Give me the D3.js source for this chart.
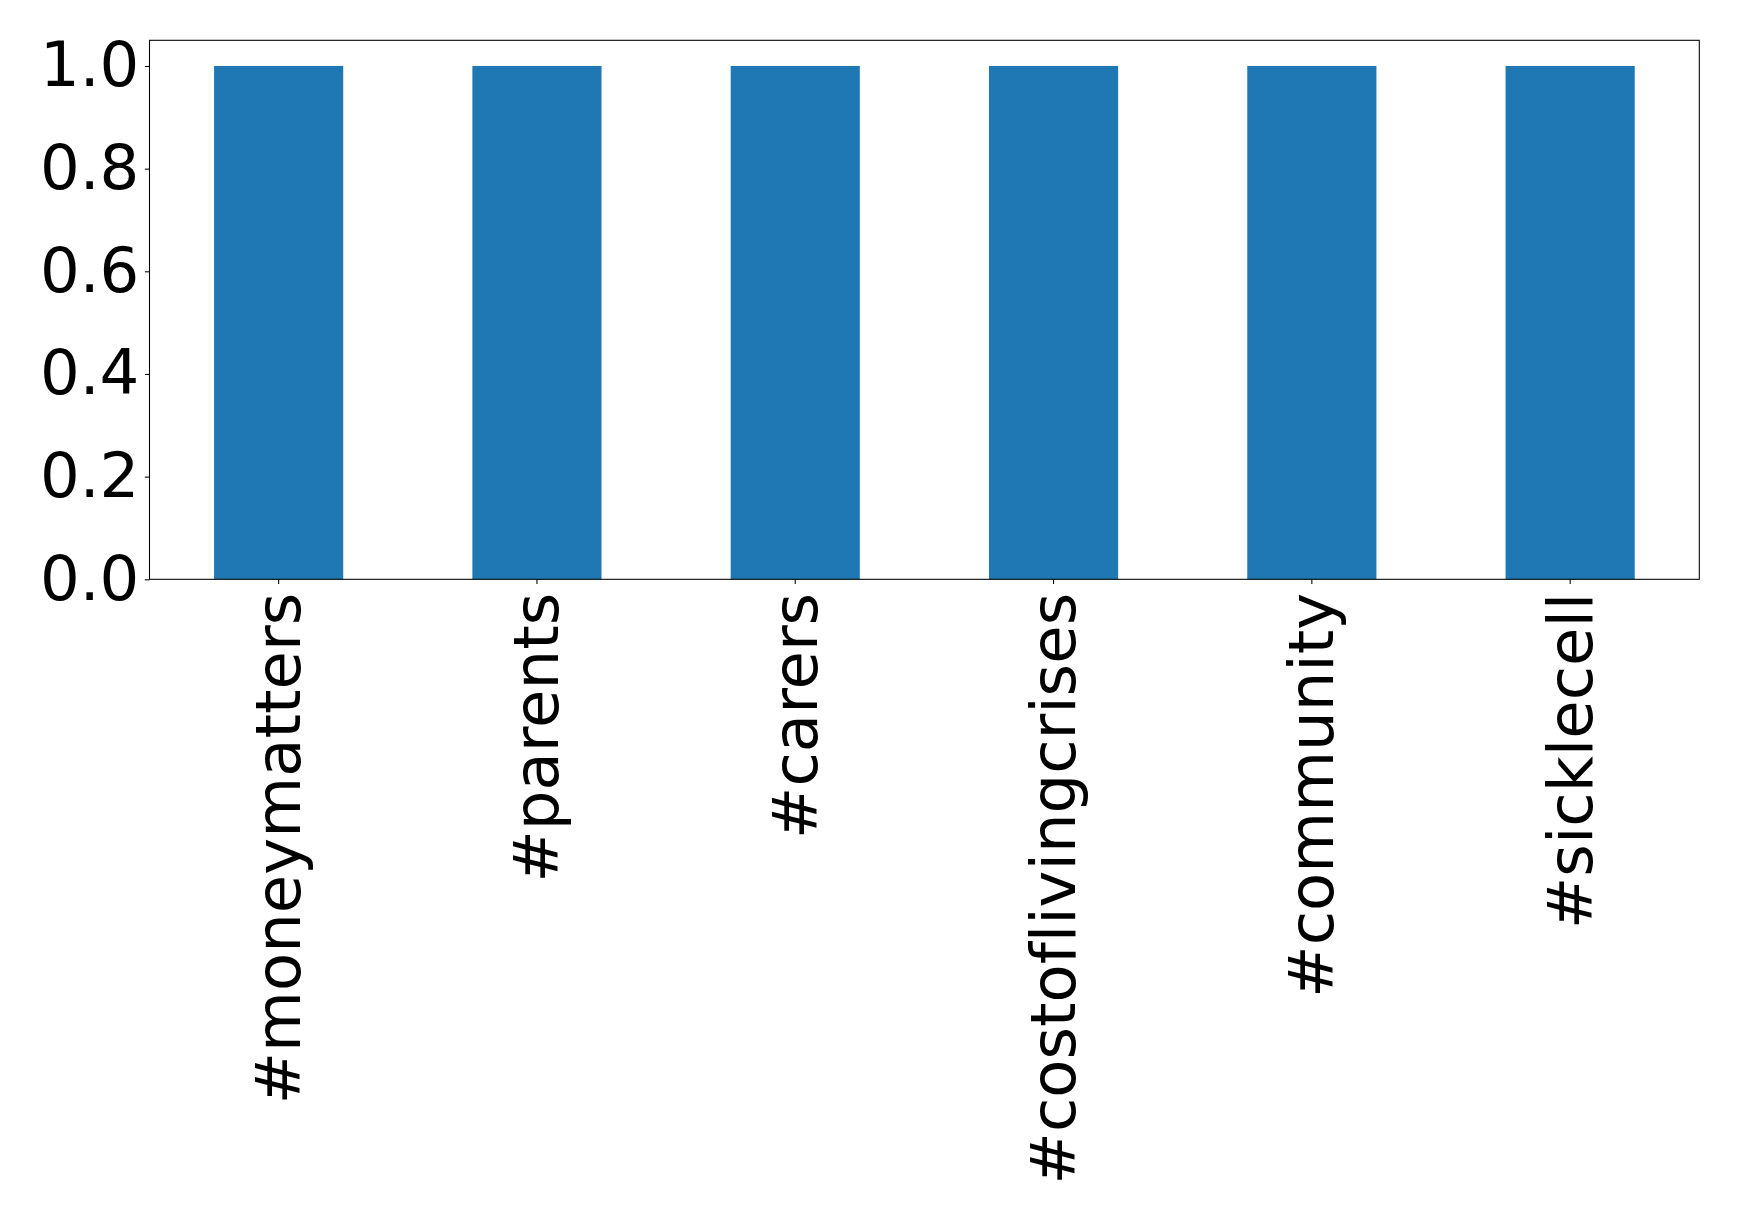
<!DOCTYPE html>
<html>
<head>
<meta charset="utf-8">
<script src="https://cdn.jsdelivr.net/npm/d3@7"></script>
<style>
  html, body { margin: 0; padding: 0; background: #fff; }
  svg { display: block; }
  text { font-variant-ligatures: none; font-feature-settings: "liga" 0, "clig" 0; }
</style>
</head>
<body>
<svg id="chart" width="1739" height="1220"></svg>
<script>
const categories = ["#moneymatters", "#parents", "#carers", "#costoflivingcrises", "#community", "#sicklecell"];
const values = [1, 1, 1, 1, 1, 1];
const yTicks = [0.0, 0.2, 0.4, 0.6, 0.8, 1.0];

const W = 1739, H = 1220;
const margin = { left: 149.5, top: 40.3, right: W - 1699.3, bottom: H - 579.3 };
const iw = W - margin.left - margin.right;
const ih = H - margin.top - margin.bottom;

const svg = d3.select("#chart");
const g = svg.append("g").attr("transform", `translate(${margin.left},${margin.top})`);

const x = d3.scaleBand().domain(categories).range([0, iw]).paddingInner(0.5).paddingOuter(0.25);
const y = d3.scaleLinear().domain([0, 1.05]).range([ih, 0]);

g.selectAll("rect.bar").data(categories).enter().append("rect")
  .attr("class", "bar")
  .attr("x", d => x(d))
  .attr("width", x.bandwidth())
  .attr("y", (d, i) => y(values[i]))
  .attr("height", (d, i) => y(0) - y(values[i]))
  .attr("fill", "#1f77b4");

const fontFamily = "'DejaVu Sans', sans-serif";
const fontSize = 62.5;
const tickLen = 4.67;

// Y axis
const yAxis = g.append("g").call(
  d3.axisLeft(y).tickValues(yTicks).tickFormat(d3.format(".1f")).tickSize(tickLen).tickPadding(5.5)
);
yAxis.select(".domain").remove();
yAxis.selectAll("line").attr("stroke", "#000").attr("stroke-width", 1.07);
yAxis.selectAll("text").attr("font-family", fontFamily).attr("font-size", fontSize).attr("fill", "#000");

// X axis
const xAxis = g.append("g").attr("transform", `translate(0,${ih})`).call(
  d3.axisBottom(x).tickSize(tickLen).tickSizeOuter(0).tickPadding(0)
);
xAxis.select(".domain").remove();
xAxis.selectAll("line").attr("stroke", "#000").attr("stroke-width", 1.07);
xAxis.selectAll("text")
  .attr("font-family", fontFamily).attr("font-size", fontSize).attr("fill", "#000")
  .attr("text-anchor", "end")
  .attr("dy", null)
  .attr("dominant-baseline", "central")
  .attr("transform", "translate(0,13.5) rotate(-90)")
  .attr("y", 0).attr("x", 0);

// Frame
g.append("rect").attr("x", 0).attr("y", 0).attr("width", iw).attr("height", ih)
  .attr("fill", "none").attr("stroke", "#000").attr("stroke-width", 1.07);
</script>
</body>
</html>
